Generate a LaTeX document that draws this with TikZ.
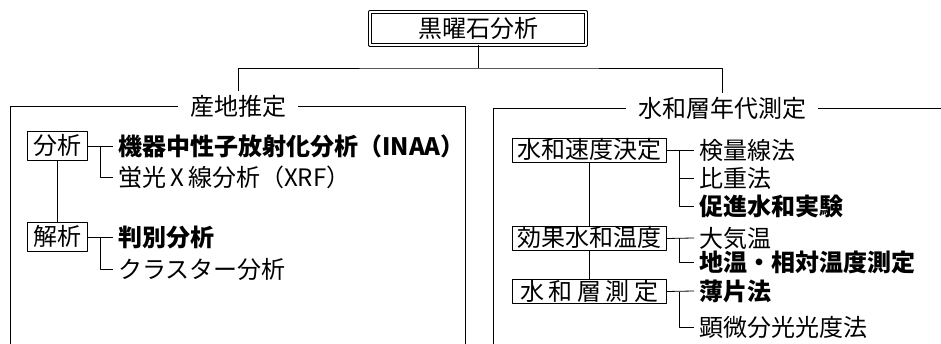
\documentclass[tikz,border=0pt]{standalone}
\usepackage{fontspec}
\setmainfont{Noto Sans CJK JP}
\tikzset{
  every picture/.style={line join=round, line width=0.8pt},
  jtext/.style={font=\fontsize{24}{28}\selectfont},
  catbox/.style={draw, jtext, inner xsep=6pt, inner ysep=3pt, text height=20pt, text depth=3pt},
  subbox/.style={draw, jtext, minimum width=154pt, inner xsep=4pt, inner ysep=0.5pt, text height=20pt, text depth=3pt},
  item/.style={jtext, anchor=west, inner xsep=5pt, inner ysep=1pt},
  bitem/.style={item, font=\fontsize{24}{28}\selectfont\bfseries},
  head/.style={jtext, fill=white, inner xsep=12pt, inner ysep=3pt},
}

\begin{document}
\begin{tikzpicture}[x=1pt,y=-1pt]
\useasboundingbox (0,0) rectangle (941,344);
% top of the tree
\node[draw,double,double distance=2.4pt,jtext,minimum width=216pt,minimum height=33pt,inner sep=0pt] (top) at (478,28.5) {黒曜石分析};
\coordinate (jn) at (top.south |- 0,68);
\node[head] (origin) at (238,106) {産地推定};
\node[head] (dating) at (722,108) {水和層年代測定};
\draw (top.south) -- (jn);
\draw (origin.north) |- (jn) -| (dating.north);
% panel frames
\draw (origin.west) -- (10,106) -- (10,350);
\draw (origin.east) -- (465,106) -- (465,350);
\draw (dating.west) -- (493,108) -- (493,350);
\draw (dating.east) -- (950,108);

% left panel
\node[catbox] (bunseki) at (57,146) {分析};
\node[bitem] (inaa) at (113,146) {機器中性子放射化分析（INAA）};
\node[item] (xrf) at (113,177) {蛍光\,X\,線分析（XRF）};
\node[catbox] (kaiseki) at (57,237) {解析};
\node[bitem] (hanbetsu) at (113,237) {判別分析};
\node[item] (cluster) at (113,269) {クラスター分析};
\draw (bunseki) -- (kaiseki);
\coordinate (ka) at ([xshift=13pt]bunseki.east);
\coordinate (kb) at ([xshift=13pt]kaiseki.east);
\draw (bunseki.east) -- (inaa.west);
\draw (ka) |- (xrf.west);
\draw (kaiseki.east) -- (hanbetsu.west);
\draw (kb) |- (cluster.west);

% right panel
\node[subbox] (sokudo) at (589,150) {水和速度決定};
\node[item] (kenryo) at (694,150) {検量線法};
\node[item] (hiju) at (694,178) {比重法};
\node[bitem] (sokushin) at (694,206) {促進水和実験};
\node[subbox] (ondo) at (589,238.5) {効果水和温度};
\node[item] (kion) at (694,238) {大気温};
\node[bitem] (chion) at (694,262) {地温・相対温度測定};
\node[subbox] (sokutei) at (589,291.5) {\makebox[138pt]{水\hfill 和\hfill 層\hfill 測\hfill 定}};
\node[bitem] (hakuhen) at (694,291) {薄片法};
\node[item] (kenbi) at (694,327) {顕微分光光度法};
\draw (sokudo) -- (ondo);
\draw (ondo) -- (sokutei);
\coordinate (kc) at ([xshift=13pt]sokudo.east);
\coordinate (kd) at ([xshift=13pt]ondo.east);
\coordinate (ke) at ([xshift=13pt]sokutei.east);
\draw (sokudo.east) -- (kenryo.west);
\draw (kc) |- (hiju.west);
\draw (kc) |- (sokushin.west);
\draw (ondo.east) -- (kion.west);
\draw (kd) |- (chion.west);
\draw (sokutei.east) -- (hakuhen.west);
\draw (ke) |- (kenbi.west);
\end{tikzpicture}
\end{document}
